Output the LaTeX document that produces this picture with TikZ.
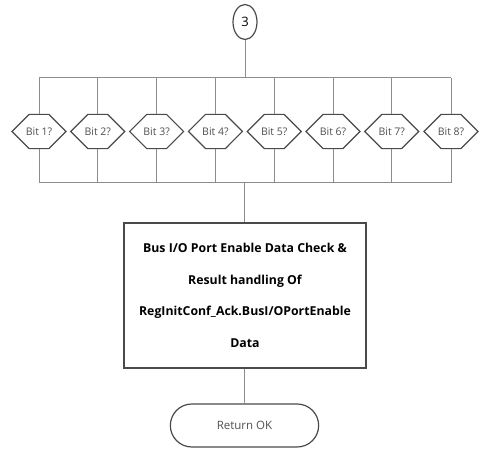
\documentclass[tikz,border=0pt]{standalone}
\usepackage{fontspec}
\setmainfont{Open Sans}
\usepackage{tikz}
\usetikzlibrary{positioning,shapes.geometric,shapes.misc}

\definecolor{wirecol}{HTML}{8C8C8C}
\definecolor{edgecol}{HTML}{4A4A4A}
\definecolor{bitcol}{HTML}{505050}

\tikzset{
    wire/.style={draw=wirecol, line width=1pt},
    bitnode/.style={chamfered rectangle, chamfered rectangle xsep=11pt, chamfered rectangle ysep=16.5pt, draw=edgecol, line width=1.2pt, minimum width=54pt, minimum height=33pt, inner sep=0pt, font=\fontsize{10.5}{12}\selectfont, text=bitcol},
    checkbox/.style={rectangle, draw=edgecol, line width=1.2pt, minimum width=242pt, minimum height=145pt, align=center, font=\fontsize{12.3}{31.5}\selectfont\bfseries},
    endnode/.style={rounded rectangle, draw=edgecol, line width=1.2pt, minimum width=155pt, minimum height=43pt, font=\fontsize{11.5}{13}\selectfont, text=bitcol}
}

\begin{document}
\begin{tikzpicture}[x=1pt,y=-1pt]
    \useasboundingbox (0,0) rectangle (482,449);

    \node[ellipse, draw=edgecol, line width=1.2pt, minimum width=24pt, minimum height=35pt, inner sep=0pt, font=\fontsize{13}{14}\selectfont] (conn3) at (245,22) {3};

    % busses
    \coordinate (topbus) at (245,78);
    \coordinate (topleft) at (39,78);
    \coordinate (topright) at (451,78);
    \coordinate (botbus) at (244,183);
    \coordinate (botleft) at (39,183);
    \coordinate (botright) at (451,183);

    \foreach \i/\x in {1/39,2/97.8,3/156.6,4/215.4,5/274.2,6/333,7/391.8,8/451}{
        \node[bitnode] (bit\i) at (\x,131.5) {Bit \i?};
        \draw[wire] (bit\i.north) -- (bit\i.north |- topbus);
        \draw[wire] (bit\i.south) -- (bit\i.south |- botbus);
    }

    \node[checkbox] (check) at (245,295.5) {Bus I/O Port Enable Data Check \&\\Result handling Of\\RegInitConf\_Ack.BusI/OPortEnable\\Data};
    \node[endnode] (retok) at (244.5,425.5) {Return OK};

    \draw[wire] (conn3.south) -- (topbus);
    \draw[wire] (topleft) -- (topright);
    \draw[wire] (botleft) -- (botright);
    \draw[wire] (botbus) -- (botbus |- check.north);
    \draw[wire] (check.south -| retok.north) -- (retok.north);
\end{tikzpicture}
\end{document}
